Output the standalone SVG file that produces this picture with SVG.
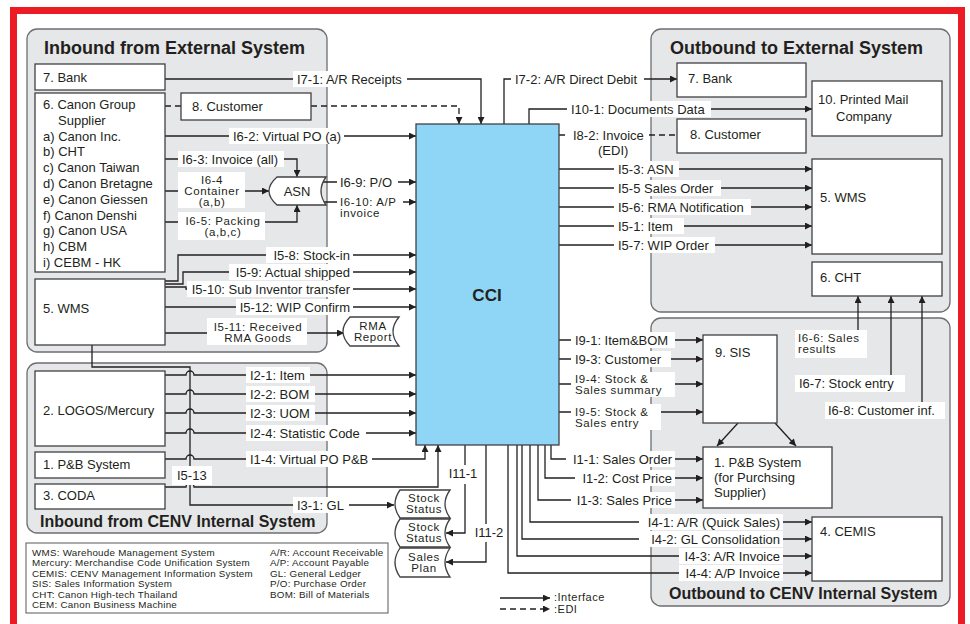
<svg xmlns="http://www.w3.org/2000/svg" width="970" height="624" viewBox="0 0 970 624">
<defs>
<style>
.pn{fill:#e6e7e8;stroke:#6d6e71;stroke-width:1.3}
.bx{fill:#fff;stroke:#414042;stroke-width:1.3}
.ln{fill:none;stroke:#231f20;stroke-width:1.3}
.ar{marker-end:url(#ah)}
.da{stroke-dasharray:6 4}
.t{font-family:"Liberation Sans",Arial,sans-serif;font-size:13px;fill:#231f20}
.s{font-size:11.5px;letter-spacing:0.6px}
.h1{font-weight:bold;font-size:18px}
.h2{font-weight:bold;font-size:16px}
.lg{font-size:9.8px;letter-spacing:0.25px}
.lb{fill:#fff}
.m{text-anchor:middle}
.e{text-anchor:end}
</style>
<marker id="ah" viewBox="0 0 10 10" refX="10" refY="5" markerWidth="10" markerHeight="7" orient="auto" markerUnits="userSpaceOnUse"><path d="M0,0 L10,5 L0,10 z" fill="#231f20"/></marker>
</defs>
<rect width="970" height="624" fill="#fff"/>
<rect x="13.5" y="10.5" width="948" height="650" fill="none" stroke="#ed1c24" stroke-width="7"/>

<g id="panels">
<rect class="pn" x="27" y="29" width="300" height="323" rx="10"/>
<rect class="pn" x="27" y="363" width="300" height="170" rx="10"/>
<rect class="pn" x="651" y="29" width="299" height="283" rx="10"/>
<rect class="pn" x="651" y="318" width="299" height="288" rx="10"/>
<text class="t h1" x="44" y="54">Inbound from External System</text>
<text class="t h1" x="670" y="54">Outbound to External System</text>
<text class="t h2" x="40" y="527">Inbound from CENV Internal System</text>
<text class="t h2" x="669" y="599">Outbound to CENV Internal System</text>
</g>

<g id="connectors">
<path class="ln ar" d="M165,79 H481 V124"/>
<path class="ln da" d="M165,106 H181"/>
<path class="ln da ar" d="M311,106 H459 V124"/>
<path class="ln ar" d="M165,136 H416"/>
<path class="ln ar" d="M165,159 H297 V177"/>
<path class="ln ar" d="M165,191 H269"/>
<path class="ln ar" d="M165,222 H297 V205"/>
<path class="ln ar" d="M322,182 H416"/>
<path class="ln ar" d="M322,202 H416"/>
<path class="ln ar" d="M165,281 H178 V255 H416"/>
<path class="ln ar" d="M165,284 H183 V272 H416"/>
<path class="ln ar" d="M165,287 H186 V289 H416"/>
<path class="ln ar" d="M165,307 H416"/>
<path class="ln ar" d="M165,333 H344"/>
<path class="ln ar" d="M92,345 V367 H190 V505 H394"/>
<path class="ln ar" d="M165,375 H186 a4,4 0 0 1 8,0 H416"/>
<path class="ln ar" d="M165,394 H186 a4,4 0 0 1 8,0 H416"/>
<path class="ln ar" d="M165,413 H186 a4,4 0 0 1 8,0 H416"/>
<path class="ln ar" d="M165,433 H186 a4,4 0 0 1 8,0 H416"/>
<path class="ln ar" d="M165,459 H186 a4,4 0 0 1 8,0 H425 V445"/>
<path class="ln ar" d="M165,487 H186 a4,4 0 0 1 8,0 H438 V445"/>
<path class="ln ar" d="M465,445 V533 H446"/>
<path class="ln ar" d="M486,445 V562 H446"/>
<path class="ln ar" d="M504,124 V79 H677"/>
<path class="ln ar" d="M529,124 V109 H812"/>
<path class="ln da" d="M559,135 H677"/>
<path class="ln ar" d="M559,169 H812"/>
<path class="ln ar" d="M559,188 H812"/>
<path class="ln ar" d="M559,207 H812"/>
<path class="ln ar" d="M559,226 H812"/>
<path class="ln ar" d="M559,245 H812"/>
<path class="ln ar" d="M559,340 H703"/>
<path class="ln ar" d="M559,359 H703"/>
<path class="ln ar" d="M559,384 H703"/>
<path class="ln ar" d="M559,412 H703"/>
<path class="ln ar" d="M738,423 L717,446"/>
<path class="ln ar" d="M775,423 L796,446"/>
<path class="ln ar" d="M551,445 V459 H703"/>
<path class="ln ar" d="M545,445 V478 H703"/>
<path class="ln ar" d="M538,445 V500 H703"/>
<path class="ln ar" d="M530,445 V522 H812"/>
<path class="ln ar" d="M522,445 V539 H812"/>
<path class="ln ar" d="M517,445 V556 H812"/>
<path class="ln ar" d="M508,445 V573 H812"/>
<path class="ln ar" d="M858,331 V296"/>
<path class="ln ar" d="M891,375 V296"/>
<path class="ln ar" d="M922,402 V296"/>
</g>

<g id="labels">
<rect class="lb" x="293" y="71" width="114" height="16"/><text class="t" x="297" y="83.5">I7-1: A/R Receipts</text>
<rect class="lb" x="229" y="128" width="115" height="16"/><text class="t" x="233" y="140.5">I6-2: Virtual PO (a)</text>
<rect class="lb" x="178" y="151" width="106" height="16"/><text class="t" x="182" y="163.5">I6-3: Invoice (all)</text>
<rect class="lb" x="178" y="172" width="67" height="36"/><text class="t s m" x="212" y="184">I6-4</text><text class="t s m" x="212" y="195">Container</text><text class="t s m" x="212" y="206">(a,b)</text>
<rect class="lb" x="178" y="212" width="87" height="28"/><text class="t s m" x="223" y="224.5">I6-5: Packing</text><text class="t s m" x="223" y="235.5">(a,b,c)</text>
<rect class="lb" x="337" y="174" width="61" height="16"/><text class="t" x="340" y="186.5">I6-9: P/O</text>
<rect class="lb" x="337" y="194" width="66" height="26"/><text class="t s" x="340" y="205.5">I6-10: A/P</text><text class="t s" x="340" y="216.5">invoice</text>
<rect class="lb" x="266" y="247" width="87" height="16"/><text class="t e" x="350" y="259.5">I5-8: Stock-in</text>
<rect class="lb" x="229" y="264" width="124" height="16"/><text class="t e" x="350" y="276.5">I5-9: Actual shipped</text>
<rect class="lb" x="187" y="281" width="166" height="16"/><text class="t e" x="350" y="293.5">I5-10: Sub Inventor transfer</text>
<rect class="lb" x="236" y="299" width="117" height="16"/><text class="t e" x="350" y="311.5">I5-12: WIP Confirm</text>
<rect class="lb" x="207" y="318" width="100" height="27"/><text class="t s m" x="258" y="330.5">I5-11: Received</text><text class="t s m" x="258" y="341.5">RMA Goods</text>
<rect class="lb" x="246" y="367" width="64" height="16"/><text class="t" x="250" y="379.5">I2-1: Item</text>
<rect class="lb" x="246" y="386" width="69" height="16"/><text class="t" x="250" y="398.5">I2-2: BOM</text>
<rect class="lb" x="246" y="405" width="69" height="16"/><text class="t" x="250" y="417.5">I2-3: UOM</text>
<rect class="lb" x="246" y="425" width="120" height="16"/><text class="t" x="250" y="437.5">I2-4: Statistic Code</text>
<rect class="lb" x="246" y="451" width="126" height="16"/><text class="t" x="250" y="463.5">I1-4: Virtual PO P&amp;B</text>
<rect class="lb" x="172" y="466" width="40" height="19"/><text class="t" x="177" y="480">I5-13</text>
<rect class="lb" x="293" y="497" width="56" height="16"/><text class="t" x="297" y="509.5">I3-1: GL</text>
<rect class="lb" x="445" y="465" width="37" height="19"/><text class="t m" x="463" y="478">I11-1</text>
<rect class="lb" x="471" y="524" width="36" height="18"/><text class="t m" x="489" y="537">I11-2</text>
<rect class="lb" x="511" y="71" width="133" height="16"/><text class="t" x="515" y="83.5">I7-2: A/R Direct Debit</text>
<rect class="lb" x="567" y="101" width="144" height="16"/><text class="t" x="571" y="113.5">I10-1: Documents Data</text>
<rect class="lb" x="569" y="127" width="80" height="33"/><text class="t" x="573" y="139.5">I8-2: Invoice</text><text class="t" x="598" y="155">(EDI)</text>
<rect class="lb" x="614" y="161" width="65" height="16"/><text class="t" x="618" y="173.5">I5-3: ASN</text>
<rect class="lb" x="614" y="180" width="107" height="16"/><text class="t" x="618" y="192.5">I5-5 Sales Order</text>
<rect class="lb" x="614" y="199" width="137" height="16"/><text class="t" x="618" y="211.5">I5-6: RMA Notification</text>
<rect class="lb" x="614" y="218" width="70" height="16"/><text class="t" x="618" y="230.5">I5-1: Item</text>
<rect class="lb" x="614" y="237" width="101" height="16"/><text class="t" x="618" y="249.5">I5-7: WIP Order</text>
<rect class="lb" x="571" y="332" width="104" height="16"/><text class="t" x="575" y="344.5">I9-1: Item&amp;BOM</text>
<rect class="lb" x="571" y="351" width="100" height="16"/><text class="t" x="575" y="363.5">I9-3: Customer</text>
<rect class="lb" x="571" y="372" width="104" height="25"/><text class="t s" x="575" y="383">I9-4: Stock &amp;</text><text class="t s" x="575" y="394">Sales summary</text>
<rect class="lb" x="571" y="404" width="90" height="26"/><text class="t s" x="575" y="415.5">I9-5: Stock &amp;</text><text class="t s" x="575" y="426.5">Sales entry</text>
<rect class="lb" x="566" y="451" width="109" height="16"/><text class="t e" x="672" y="463.5">I1-1: Sales Order</text>
<rect class="lb" x="575" y="470" width="100" height="16"/><text class="t e" x="672" y="482.5">I1-2: Cost Price</text>
<rect class="lb" x="571" y="492" width="104" height="16"/><text class="t e" x="672" y="504.5">I1-3: Sales Price</text>
<rect class="lb" x="639" y="514" width="144" height="16"/><text class="t e" x="780" y="526.5">I4-1: A/R (Quick Sales)</text>
<rect class="lb" x="639" y="531" width="144" height="16"/><text class="t e" x="780" y="543.5">I4-2: GL Consolidation</text>
<rect class="lb" x="679" y="548" width="104" height="16"/><text class="t e" x="780" y="560.5">I4-3: A/R Invoice</text>
<rect class="lb" x="679" y="565" width="104" height="16"/><text class="t e" x="780" y="577.5">I4-4: A/P Invoice</text>
<rect class="lb" x="795" y="330" width="72" height="28"/><text class="t s" x="798" y="341.5">I6-6: Sales</text><text class="t s" x="798" y="352.5">results</text>
<rect class="lb" x="795" y="375" width="110" height="17"/><text class="t" x="799" y="388">I6-7: Stock entry</text>
<rect class="lb" x="825" y="402" width="120" height="17"/><text class="t" x="828" y="415">I6-8: Customer inf.</text>
</g>

<g id="n-bank-in"><rect class="bx" x="35" y="64" width="130" height="26"/><text class="t" x="43" y="82">7. Bank</text></g>
<g id="n-canon"><rect class="bx" x="35" y="93" width="130" height="179"/>
<text class="t" x="43" y="109">6. Canon Group</text>
<text class="t" x="58" y="124.8">Supplier</text>
<text class="t" x="43" y="140.6">a) Canon Inc.</text>
<text class="t" x="43" y="156.4">b) CHT</text>
<text class="t" x="43" y="172.2">c) Canon Taiwan</text>
<text class="t" x="43" y="188">d) Canon Bretagne</text>
<text class="t" x="43" y="203.8">e) Canon Giessen</text>
<text class="t" x="43" y="219.6">f) Canon Denshi</text>
<text class="t" x="43" y="235.4">g) Canon USA</text>
<text class="t" x="43" y="251.2">h) CBM</text>
<text class="t" x="43" y="267">i) CEBM - HK</text></g>
<g id="n-customer-in"><rect class="bx" x="181" y="93" width="130" height="27"/><text class="t" x="192" y="111">8. Customer</text></g>
<g id="n-wms-in"><rect class="bx" x="35" y="279" width="130" height="66"/><text class="t" x="43" y="313">5. WMS</text></g>
<g id="n-asn"><path class="bx" d="M277,177 H326 Q316,191 326,205 H277 Q261,191 277,177 Z"/><text class="t m" x="297" y="196">ASN</text></g>
<g id="n-rma"><path class="bx" d="M350,317 H399 Q387,331.5 399,346 H350 Q336,331.5 350,317 Z"/><text class="t s m" x="373" y="330">RMA</text><text class="t s m" x="373" y="341">Report</text></g>
<g id="n-logos"><rect class="bx" x="35" y="371" width="130" height="75"/><text class="t" x="43" y="415">2. LOGOS/Mercury</text></g>
<g id="n-pb-in"><rect class="bx" x="35" y="452" width="130" height="26"/><text class="t" x="43" y="469">1. P&amp;B System</text></g>
<g id="n-coda"><rect class="bx" x="35" y="484" width="130" height="25"/><text class="t" x="43" y="500">3. CODA</text></g>
<g id="n-stock1"><path class="bx" d="M400,490 H450 Q440,504 450,518 H400 Q390,504 400,490 Z"/><text class="t s m" x="424" y="502">Stock</text><text class="t s m" x="424" y="513">Status</text></g>
<g id="n-stock2"><path class="bx" d="M400,519 H450 Q440,533 450,547 H400 Q390,533 400,519 Z"/><text class="t s m" x="424" y="531">Stock</text><text class="t s m" x="424" y="542">Status</text></g>
<g id="n-salesplan"><path class="bx" d="M400,548 H450 Q440,562.5 450,577 H400 Q390,562.5 400,548 Z"/><text class="t s m" x="424" y="560.5">Sales</text><text class="t s m" x="424" y="571.5">Plan</text></g>
<g id="n-cci"><rect x="416" y="124" width="143" height="321" fill="#8fd6f6" stroke="#414042" stroke-width="1.3"/><text class="t m" x="487" y="301" style="font-weight:bold;font-size:17px">CCI</text></g>
<g id="n-bank-out"><rect class="bx" x="677" y="63" width="129" height="34"/><text class="t" x="688" y="83">7. Bank</text></g>
<g id="n-printed"><rect class="bx" x="812" y="81" width="130" height="55"/><text class="t" x="818" y="104">10. Printed Mail</text><text class="t" x="836" y="121">Company</text></g>
<g id="n-customer-out"><rect class="bx" x="677" y="119" width="129" height="34"/><text class="t" x="690" y="139">8. Customer</text></g>
<g id="n-wms-out"><rect class="bx" x="812" y="159" width="130" height="95"/><text class="t" x="820" y="202">5. WMS</text></g>
<g id="n-cht"><rect class="bx" x="812" y="262" width="130" height="34"/><text class="t" x="820" y="282">6. CHT</text></g>
<g id="n-sis"><rect class="bx" x="703" y="335" width="74" height="88"/><text class="t" x="715" y="357">9. SIS</text></g>
<g id="n-pb-out"><rect class="bx" x="703" y="447" width="129" height="61"/><text class="t" x="714" y="467">1. P&amp;B System</text><text class="t" x="714" y="482">(for Purchsing</text><text class="t" x="714" y="497">Supplier)</text></g>
<g id="n-cemis"><rect class="bx" x="812" y="517" width="130" height="64"/><text class="t" x="820" y="536">4. CEMIS</text></g>

<g id="legend">
<rect x="26" y="543" width="362" height="70" fill="#fff" stroke="#58595b" stroke-width="1"/>
<text class="t lg" x="32" y="555.5">WMS: Warehoude Management System</text>
<text class="t lg" x="32" y="566">Mercury: Merchandise Code Unification System</text>
<text class="t lg" x="32" y="576.5">CEMIS: CENV Management Information System</text>
<text class="t lg" x="32" y="587">SIS: Sales Information System</text>
<text class="t lg" x="32" y="597.5">CHT: Canon High-tech Thailand</text>
<text class="t lg" x="32" y="608">CEM: Canon Business Machine</text>
<text class="t lg" x="270" y="555.5">A/R: Account Receivable</text>
<text class="t lg" x="270" y="566">A/P: Account Payable</text>
<text class="t lg" x="270" y="576.5">GL: General Ledger</text>
<text class="t lg" x="270" y="587">P/O: Purchase Order</text>
<text class="t lg" x="270" y="597.5">BOM: Bill of Materials</text>
<path class="ln ar" d="M500,598 H550"/>
<path class="ln da ar" d="M500,609 H550"/>
<text class="t" x="554" y="600.5" style="font-size:11px;letter-spacing:0.5px">:Interface</text>
<text class="t" x="554" y="612.5" style="font-size:11px;letter-spacing:0.5px">:EDI</text>
</g>
</svg>
